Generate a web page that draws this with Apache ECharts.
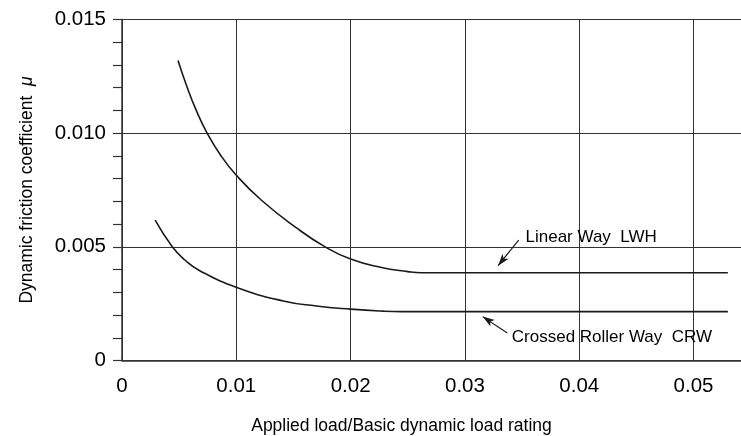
<!DOCTYPE html>
<html>
<head>
<meta charset="utf-8">
<title>Dynamic friction coefficient</title>
<script src="https://cdn.jsdelivr.net/npm/echarts@6/dist/echarts.min.js"></script>
</head>
<body style="margin:0;background:#fff">
<div id="main" style="width:741px;height:436px"></div>
<script>
// values
var lwhLoad = [0.0049, 0.0057, 0.0065, 0.0074, 0.0086, 0.0100, 0.0122, 0.0153, 0.0177, 0.0200, 0.0226, 0.0250, 0.0262, 0.0530];
var lwhMu   = [0.0132, 0.01202, 0.0110, 0.01005, 0.00905, 0.00815, 0.00705, 0.00582, 0.00502, 0.00446, 0.0041, 0.00391, 0.00386, 0.00386];

var crwLoad = [0.0029, 0.0044, 0.0055, 0.0068, 0.0101, 0.0141, 0.0170, 0.0200, 0.0229, 0.0245, 0.0530];
var crwMu   = [0.00617, 0.0050, 0.00442, 0.00395, 0.0032, 0.00262, 0.0024, 0.00226, 0.00217, 0.00215, 0.00215];

// annotation anchors (data coords)
var lwhLabel = [0.0353, 0.00541];
var lwhArrow = [[0.0347, 0.0053], [0.0329, 0.00417]];
var crwLabel = [0.0341, 0.00101];
var crwArrow = [[0.0337, 0.00121], [0.03155, 0.00193]];

function pairs(xs, ys) {
    return xs.map(function (x, i) { return [x, ys[i]]; });
}

var ink = '#1a1a1a';
var font = "'Liberation Sans', Arial, sans-serif";

function note(text, at, arrow) {
    return {
        markPoint: {
            symbol: 'circle', symbolSize: 0, silent: true,
            label: { show: true, position: 'right', distance: 0, formatter: text,
                     color: '#000', fontSize: 17, fontFamily: font },
            data: [{ coord: at }]
        },
        markLine: {
            silent: true, symbol: ['none', 'arrow'], symbolSize: [6, 12],
            label: { show: false },
            lineStyle: { color: ink, width: 1.2, type: 'solid' },
            data: [[{ coord: arrow[0] }, { coord: arrow[1] }]]
        }
    };
}

var chart = echarts.init(document.getElementById('main'));
var lwhNote = note('Linear Way  LWH', lwhLabel, lwhArrow);
var crwNote = note('Crossed Roller Way  CRW', crwLabel, crwArrow);

chart.setOption({
    animation: false,
    textStyle: { fontFamily: font },
    grid: { left: 122, top: 19.5, bottom: 75.5, right: -4, containLabel: false, outerBoundsMode: 'none' },
    xAxis: {
        type: 'value', min: 0, max: 0.0545, interval: 0.01,
        name: 'Applied load/Basic dynamic load rating',
        nameLocation: 'middle', nameGap: 57,
        nameTextStyle: { color: '#000', fontSize: 17.5, padding: [0, 64, 0, 0] },
        axisLine: { show: true, lineStyle: { color: '#333', width: 1.5 } },
        axisTick: { show: false },
        axisLabel: {
            color: '#000', fontSize: 20.5, margin: 15, showMaxLabel: false,
            formatter: function (v) { return v === 0 ? '0' : v.toFixed(2); }
        },
        splitLine: { show: true, lineStyle: { color: '#333', width: 1 } }
    },
    yAxis: {
        type: 'value', min: 0, max: 0.015, interval: 0.005,
        name: 'Dynamic friction coefficient  {mu|μ}',
        nameLocation: 'middle', nameGap: 86,
        nameTextStyle: { color: '#000', fontSize: 17.5,
                         rich: { mu: { fontStyle: 'italic', fontSize: 17.5, color: '#000' } } },
        axisLine: { show: true, lineStyle: { color: '#333', width: 1.5 } },
        axisTick: { show: true, inside: false, length: 9, lineStyle: { color: '#333', width: 1.2 } },
        minorTick: { show: true, splitNumber: 5, length: 9, lineStyle: { color: '#333', width: 1.2 } },
        axisLabel: {
            color: '#000', fontSize: 20.5, margin: 16,
            formatter: function (v) { return v === 0 ? '0' : v.toFixed(3); }
        },
        splitLine: { show: true, lineStyle: { color: '#333', width: 1 } }
    },
    series: [
        {
            name: 'Linear Way LWH', type: 'line', data: pairs(lwhLoad, lwhMu),
            smooth: 0.5, showSymbol: false,
            lineStyle: { color: ink, width: 1.6 },
            markPoint: lwhNote.markPoint, markLine: lwhNote.markLine
        },
        {
            name: 'Crossed Roller Way CRW', type: 'line', data: pairs(crwLoad, crwMu),
            smooth: 0.5, showSymbol: false,
            lineStyle: { color: ink, width: 1.6 },
            markPoint: crwNote.markPoint, markLine: crwNote.markLine
        }
    ]
});
</script>
</body>
</html>
